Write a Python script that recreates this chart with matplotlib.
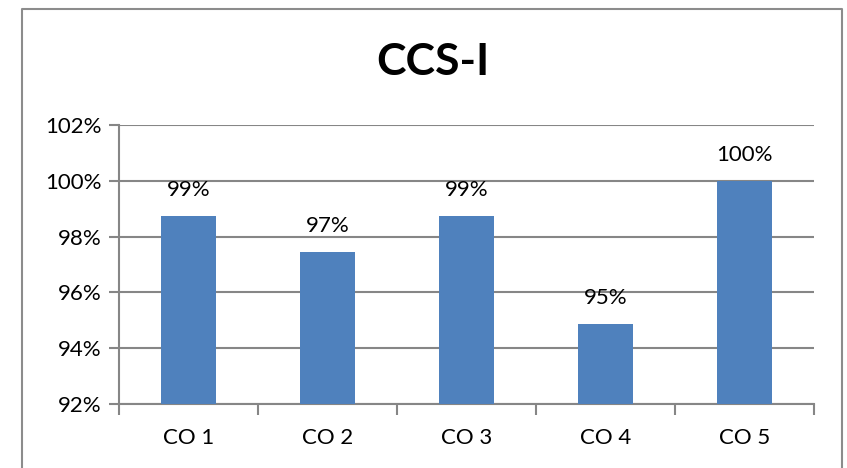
import matplotlib
matplotlib.use("Agg")
import matplotlib.pyplot as plt
from matplotlib.lines import Line2D
from matplotlib.ticker import FuncFormatter, FixedLocator

categories = ["CO 1", "CO 2", "CO 3", "CO 4", "CO 5"]
values = [98.75, 97.45, 98.75, 94.88, 100.0]
labels = ["99%", "97%", "99%", "95%", "100%"]
yticks = [92, 94, 96, 98, 100, 102]

plt.rcParams['font.family'] = ['Lato', 'DejaVu Sans']

fig = plt.figure(figsize=(8.47, 4.68), dpi=100)
W, H = 847, 468
ax = fig.add_axes([119/W, 1-404/H, (814-119)/W, (404-125)/H])

gray = '#868686'
x = list(range(len(categories)))
ax.bar(x, [v - 92 for v in values], bottom=92, width=0.40, color='#4F81BD', zorder=3)
for xi, v, lab in zip(x, values, labels):
    ax.annotate(lab, (xi, v), xytext=(0, 14.5), textcoords='offset points',
                ha='center', va='baseline', fontsize=16, color='black')

ax.set_xlim(-0.5, len(categories) - 0.5)
ax.set_ylim(92, 102)
ax.set_yticks(yticks)
ax.yaxis.set_major_formatter(FuncFormatter(lambda v, p: f"{v:.0f}%"))
ax.set_xticks(x)
ax.set_xticklabels(categories)
ax.xaxis.set_minor_locator(FixedLocator([i - 0.5 for i in range(len(categories) + 1)]))
ax.tick_params(axis='x', which='major', length=0, pad=17, labelsize=16)
ax.tick_params(axis='x', which='minor', length=8, width=1.5, color=gray)
ax.tick_params(axis='y', which='major', length=7.5, width=1.5, color=gray, labelsize=16, pad=5)
ax.grid(axis='y', color=gray, lw=1.5, zorder=0)
for s in ['top', 'right']:
    ax.spines[s].set_visible(False)
for s in ['left', 'bottom']:
    ax.spines[s].set_color(gray)
    ax.spines[s].set_linewidth(1.5)
ax.set_axisbelow(True)

# Chart border (left, top, right)
bx0, bx1, by0 = 22/W, 842/W, 1-9/H
fig.add_artist(Line2D([bx0, bx0, bx1, bx1], [0, by0, by0, 0], transform=fig.transFigure,
                      color='#8c8c8c', lw=1.5))

fig.text(433/W, 1-62/H, "CCS-I", ha='center', va='center', fontsize=32, fontweight='bold')

fig.savefig("out.png", dpi=100)
